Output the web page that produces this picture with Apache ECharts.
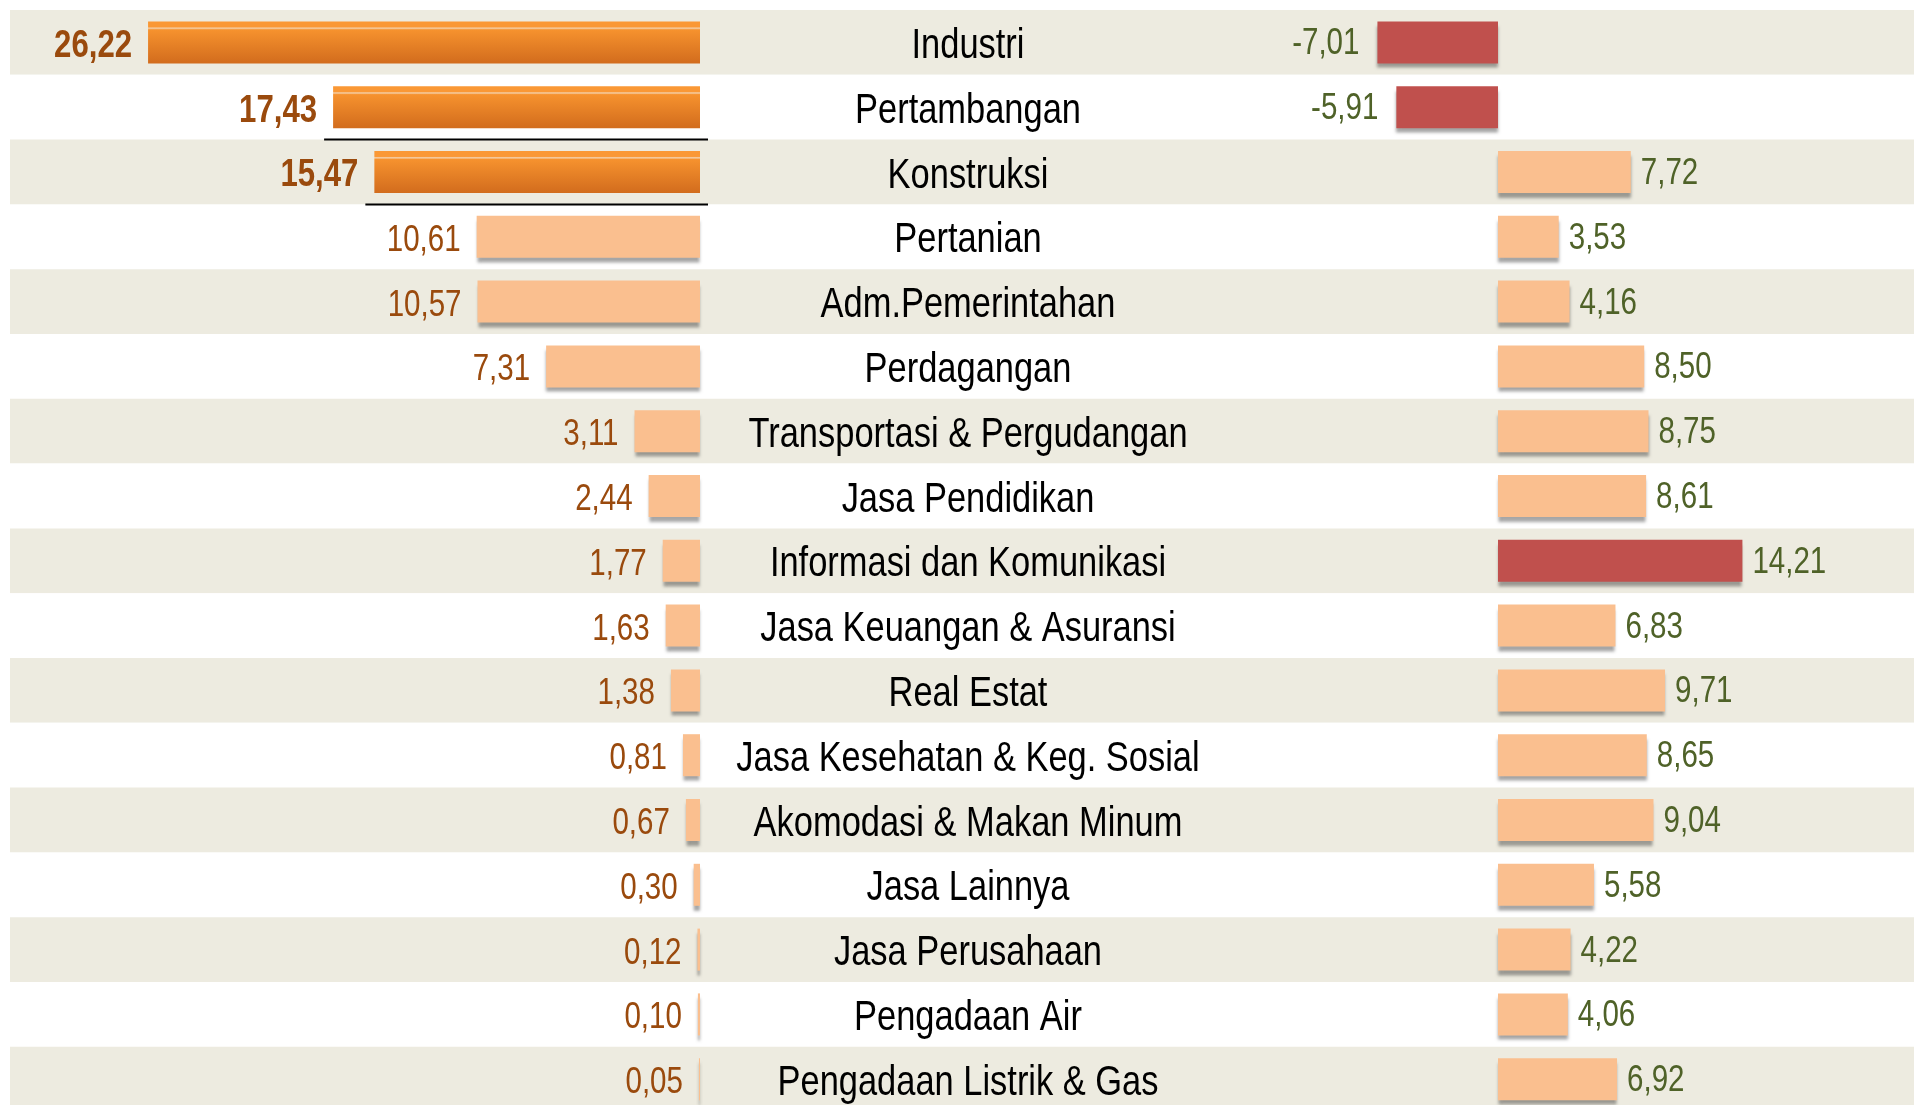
<!DOCTYPE html>
<html>
<head>
<meta charset="utf-8">
<script src="https://cdn.jsdelivr.net/npm/echarts@6/dist/echarts.min.js"></script>
<style>
html, body { margin: 0; padding: 0; background: #fff; }
#main { width: 1914px; height: 1105px; }
</style>
</head>
<body>
<div id="main"></div>
<script>
var categories = ['Industri', 'Pertambangan', 'Konstruksi', 'Pertanian', 'Adm.Pemerintahan', 'Perdagangan',
	'Transportasi & Pergudangan', 'Jasa Pendidikan', 'Informasi dan Komunikasi', 'Jasa Keuangan & Asuransi',
	'Real Estat', 'Jasa Kesehatan & Keg. Sosial', 'Akomodasi & Makan Minum', 'Jasa Lainnya', 'Jasa Perusahaan',
	'Pengadaan Air', 'Pengadaan Listrik & Gas'];
// kiri: peranan (%)
var shareValues = [26.22, 17.43, 15.47, 10.61, 10.57, 7.31, 3.11, 2.44, 1.77, 1.63, 1.38, 0.81, 0.67, 0.30, 0.12, 0.10, 0.05];
// kanan: pertumbuhan (%)
var growthValues = [-7.01, -5.91, 7.72, 3.53, 4.16, 8.50, 8.75, 8.61, 14.21, 6.83, 9.71, 8.65, 9.04, 5.58, 4.22, 4.06, 6.92];

// font sempit (Arial Narrow) disimulasikan: Liberation Sans dipersempit 82%
var FONT = "'Liberation Sans', Arial, sans-serif";
var NARROW = 0.82;
var rowTop = 10;
var rowH = 64.8;
var gridH = rowH * categories.length;
var labelCenterX = 968;

function fmt(v) {
	return v.toFixed(2).replace('.', ',');
}

function narrowText(x, y, text, align, size, weight, color) {
	return {
		type: 'text',
		x: x,
		y: y,
		scaleX: NARROW,
		style: {
			text: text,
			x: 0,
			y: 0,
			align: align,
			verticalAlign: 'middle',
			fontFamily: FONT,
			fontSize: size,
			fontWeight: weight,
			fill: color
		}
	};
}

var darkOrange = new echarts.graphic.LinearGradient(0, 0, 0, 1, [
	{ offset: 0, color: '#FA9835' },
	{ offset: 0.13, color: '#FA9835' },
	{ offset: 0.16, color: '#F3D2AE' },
	{ offset: 0.2, color: '#F6922E' },
	{ offset: 1, color: '#D26C1D' }
]);
var shadow = { shadowColor: 'rgba(0,0,0,0.35)', shadowBlur: 3, shadowOffsetY: 5 };

var leftData = shareValues.map(function(v, i) {
	return {
		value: v,
		itemStyle: Object.assign({ color: i < 3 ? darkOrange : '#FABF8F' }, shadow)
	};
});

var maxGrowth = Math.max.apply(null, growthValues);
var rightData = growthValues.map(function(v) {
	var red = v < 0 || v === maxGrowth;
	return {
		value: v,
		itemStyle: Object.assign({ color: red ? '#C0504D' : '#FABF8F' }, shadow)
	};
});

var option = {
	animation: false,
	grid: [
		{ left: 10, right: 0, top: rowTop, height: gridH, outerBoundsMode: 'none' },
		{ left: 68.5, width: 631.5, top: rowTop, height: gridH, outerBoundsMode: 'none' },
		{ left: 1326, width: 516, top: rowTop, height: gridH, outerBoundsMode: 'none' }
	],
	xAxis: [
		{ gridIndex: 0, type: 'value', show: false, min: 0, max: 1 },
		{ gridIndex: 1, type: 'value', show: false, inverse: true, min: 0, max: 30 },
		{ gridIndex: 2, type: 'value', show: false, min: -10, max: 20 }
	],
	yAxis: [{
		gridIndex: 0,
		type: 'category',
		data: categories,
		inverse: true,
		axisLine: { show: false },
		axisTick: { show: false },
		axisLabel: { show: false },
		splitLine: { show: false },
		splitArea: { show: true, areaStyle: { color: ['#EDEBE0', '#FFFFFF'] } }
	}, {
		gridIndex: 1,
		type: 'category',
		data: categories,
		inverse: true,
		show: false
	}, {
		gridIndex: 2,
		type: 'category',
		data: categories,
		inverse: true,
		show: false
	}],
	series: [{
		name: 'Peranan',
		type: 'bar',
		xAxisIndex: 1,
		yAxisIndex: 1,
		barWidth: 42,
		data: leftData
	}, {
		name: 'Pertumbuhan',
		type: 'bar',
		xAxisIndex: 2,
		yAxisIndex: 2,
		barWidth: 42,
		data: rightData
	}, {
		// nama sektor di tengah
		type: 'custom',
		xAxisIndex: 1,
		yAxisIndex: 1,
		clip: false,
		z: 5,
		data: categories.map(function(c, i) { return [0, i]; }),
		renderItem: function(params, api) {
			var i = api.value(1);
			var y = api.coord([0, i])[1] + 4;
			return narrowText(labelCenterX, y, categories[i], 'center', 42, 'normal', '#000');
		}
	}, {
		// label nilai kiri
		type: 'custom',
		xAxisIndex: 1,
		yAxisIndex: 1,
		clip: false,
		z: 5,
		data: shareValues.map(function(v, i) { return [v, i]; }),
		renderItem: function(params, api) {
			var v = api.value(0), i = api.value(1);
			var p = api.coord([v, i]);
			var bold = i < 3;
			return narrowText(p[0] - 16, p[1] + 4, fmt(v), 'right', bold ? 38 : 36, bold ? 'bold' : 'normal', '#9A4A0D');
		}
	}, {
		// label nilai kanan
		type: 'custom',
		xAxisIndex: 2,
		yAxisIndex: 2,
		clip: false,
		z: 5,
		data: growthValues.map(function(v, i) { return [v, i]; }),
		renderItem: function(params, api) {
			var v = api.value(0), i = api.value(1);
			var p = api.coord([v, i]);
			if (v < 0) {
				return narrowText(p[0] - 18, p[1] + 2, fmt(v), 'right', 36, 'normal', '#4F6228');
			}
			return narrowText(p[0] + 10, p[1] + 2, fmt(v), 'left', 36, 'normal', '#4F6228');
		}
	}]
};

var chart = echarts.init(document.getElementById('main'));
chart.setOption(option);

// garis hitam di bawah batang Pertambangan & Konstruksi
var lines = [];
[1, 2].forEach(function(i) {
	var x1 = chart.convertToPixel({ xAxisIndex: 1 }, shareValues[i]) - 9;
	var x2 = chart.convertToPixel({ xAxisIndex: 1 }, 0) + 8;
	var y = chart.convertToPixel({ yAxisIndex: 1 }, i) + rowH / 2;
	lines.push({
		type: 'line',
		shape: { x1: x1, y1: y, x2: x2, y2: y },
		style: { stroke: '#000', lineWidth: 2 },
		z: 10
	});
});
chart.setOption({ graphic: lines });
</script>
</body>
</html>
